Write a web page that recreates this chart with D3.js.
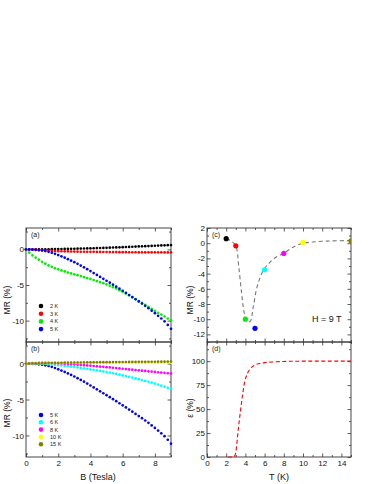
<!DOCTYPE html>
<html>
<head>
<meta charset="utf-8">
<script src="https://cdn.jsdelivr.net/npm/d3@7"></script>
<style>
  body { margin: 0; background: #fff; }
  svg { font-family: "Liberation Sans", Arial, sans-serif; }
</style>
</head>
<body>
<script>
// field values, Tesla
const fields = [0, 0.2, 0.4, 0.6, 0.8, 1.0, 1.2, 1.4, 1.6, 1.8, 2.0, 2.2, 2.4, 2.6, 2.8, 3.0, 3.2, 3.4, 3.6, 3.8,
  4.0, 4.2, 4.4, 4.6, 4.8, 5.0, 5.2, 5.4, 5.6, 5.8, 6.0, 6.2, 6.4, 6.6, 6.8, 7.0, 7.2, 7.4, 7.6, 7.8,
  8.0, 8.2, 8.4, 8.6, 8.8, 9.0]

const mr2K = [0, 0, 0, 0.01, 0.01, 0.01, 0.02, 0.02, 0.03, 0.04, 0.05, 0.05, 0.06, 0.07, 0.08, 0.09, 0.1, 0.11, 0.12, 0.14,
  0.15, 0.16, 0.18, 0.19, 0.21, 0.22, 0.24, 0.26, 0.27, 0.29, 0.31, 0.33, 0.35, 0.37, 0.39, 0.41, 0.43, 0.45, 0.47, 0.49,
  0.51, 0.53, 0.55, 0.57, 0.59, 0.61]
const mr3K = [0, -0.02, -0.05, -0.08, -0.11, -0.14, -0.16, -0.19, -0.21, -0.23, -0.25, -0.26, -0.28, -0.29, -0.3, -0.31, -0.32, -0.33, -0.33, -0.34,
  -0.35, -0.35, -0.36, -0.36, -0.37, -0.37, -0.38, -0.38, -0.38, -0.39, -0.39, -0.39, -0.4, -0.4, -0.4, -0.41, -0.41, -0.41, -0.41, -0.42,
  -0.42, -0.42, -0.42, -0.43, -0.43, -0.43]
const mr4K = [0, -0.45, -0.85, -1.15, -1.45, -1.75, -2.0, -2.25, -2.45, -2.65, -2.8, -2.95, -3.1, -3.25, -3.38, -3.5, -3.62, -3.75, -3.9, -4.02,
  -4.15, -4.3, -4.45, -4.6, -4.75, -4.92, -5.1, -5.3, -5.5, -5.72, -5.95, -6.2, -6.45, -6.72, -6.98, -7.25, -7.52, -7.8, -8.08, -8.35,
  -8.62, -8.9, -9.15, -9.42, -9.7, -9.95]
const mr5K = [0, -0.01, -0.03, -0.06, -0.1, -0.16, -0.24, -0.34, -0.46, -0.62, -0.8, -0.98, -1.17, -1.37, -1.58, -1.8, -2.03, -2.27, -2.52, -2.78,
  -3.05, -3.32, -3.59, -3.86, -4.13, -4.4, -4.67, -4.95, -5.23, -5.52, -5.81, -6.1, -6.4, -6.7, -7.0, -7.3, -7.6, -7.92, -8.25, -8.6,
  -8.95, -9.32, -9.7, -10.1, -10.6, -11.15]
const mr6K = [0, 0, 0, -0.01, -0.02, -0.04, -0.06, -0.09, -0.13, -0.17, -0.22, -0.27, -0.32, -0.37, -0.42, -0.48, -0.54, -0.6, -0.66, -0.73,
  -0.8, -0.87, -0.94, -1.02, -1.1, -1.18, -1.26, -1.35, -1.44, -1.53, -1.63, -1.73, -1.84, -1.95, -2.06, -2.17, -2.29, -2.41, -2.53, -2.66,
  -2.79, -2.93, -3.07, -3.22, -3.37, -3.52]
const mr8K = [0, 0.02, 0.05, 0.08, 0.1, 0.11, 0.11, 0.1, 0.08, 0.06, 0.03, 0, -0.03, -0.06, -0.09, -0.12, -0.15, -0.19, -0.22, -0.26,
  -0.3, -0.34, -0.38, -0.42, -0.46, -0.5, -0.54, -0.58, -0.63, -0.67, -0.72, -0.76, -0.81, -0.85, -0.9, -0.94, -0.99, -1.03, -1.08, -1.12,
  -1.17, -1.21, -1.26, -1.3, -1.35, -1.39]
const mr10K = [0, 0.01, 0.02, 0.03, 0.04, 0.05, 0.05, 0.06, 0.06, 0.07, 0.07, 0.07, 0.08, 0.08, 0.08, 0.08, 0.08, 0.09, 0.09, 0.09,
  0.09, 0.09, 0.09, 0.09, 0.1, 0.1, 0.1, 0.1, 0.1, 0.1, 0.1, 0.1, 0.1, 0.1, 0.1, 0.1, 0.1, 0.1, 0.1, 0.1,
  0.1, 0.1, 0.1, 0.1, 0.1, 0.1]
const mr15K = [0, 0.01, 0.02, 0.03, 0.04, 0.05, 0.06, 0.07, 0.08, 0.09, 0.1, 0.11, 0.12, 0.13, 0.13, 0.14, 0.15, 0.15, 0.16, 0.17,
  0.17, 0.18, 0.18, 0.19, 0.19, 0.2, 0.2, 0.21, 0.21, 0.21, 0.22, 0.22, 0.23, 0.23, 0.23, 0.24, 0.24, 0.24, 0.25, 0.25,
  0.25, 0.26, 0.26, 0.26, 0.27, 0.27]

// panel (c): MR at 9 T vs temperature
const temps = [2, 3, 4, 5, 6, 8, 10, 15]
const mr9T = [0.6, -0.35, -10.0, -11.2, -3.5, -1.35, 0.1, 0.3]
const tempColors = ["#000000", "#ff0000", "#00ee00", "#0000ff", "#00ffff", "#ff00ff", "#ffff00", "#808000"]
const guideT = [2, 2.5, 3, 3.3, 3.6, 3.9, 4.2, 4.5, 4.8, 5.2, 5.6, 6, 6.5, 7, 8, 9, 10, 11, 12, 13, 15]
const guideMR = [0.6, 0.3, -0.35, -3.0, -6.5, -9.3, -10.3, -10.3, -8.5, -5.8, -4.3, -3.3, -2.6, -2.0, -1.3, -0.5, 0.0, 0.15, 0.25, 0.3, 0.35]

// panel (d): epsilon vs temperature
const epsT = [2.2, 2.8, 3.0, 3.25, 3.6, 3.9, 4.2, 4.5, 5.0, 5.5, 6.0, 7.0, 8.0, 10, 12, 15]
const epsVal = [0, 0, 5, 28, 57, 77, 87, 92, 96, 97.5, 98.5, 99.3, 99.7, 100, 100, 100]

const legendA = ["2 K", "3 K", "4 K", "5 K"]
const legendB = ["5 K", "6 K", "8 K", "10 K", "15 K"]
const colA = ["#000000", "#ff0000", "#00ee00", "#0000ff"]
const colB = ["#0000ff", "#00ffff", "#ff00ff", "#ffff00", "#808000"]

const width = 374, height = 484
const svg = d3.select("body").append("svg").attr("width", width).attr("height", height)

const leftX = [26, 171], rightX = [207, 351]
const topRow = [228, 342], botRow = [342, 457]

const fmt = d => String(d)

function frame(xr, yr, xs, ys, opt) {
  const g = svg.append("g")
  // minor ticks
  const minorAxes = [
    [d3.axisBottom(xs), yr[1], "x"], [d3.axisTop(xs), yr[0], "x"],
    [d3.axisLeft(ys), xr[0], "y"], [d3.axisRight(ys), xr[1], "y"]
  ]
  minorAxes.forEach(([ax, pos, dir]) => {
    const vals = dir == "x" ? opt.xMinor : opt.yMinor
    const a = g.append("g")
      .attr("transform", dir == "x" ? `translate(0,${pos})` : `translate(${pos},0)`)
      .call(ax.tickValues(vals).tickSize(-2).tickFormat(""))
    a.select(".domain").remove()
  })
  // major ticks
  const xb = g.append("g").attr("transform", `translate(0,${yr[1]})`)
    .call(d3.axisBottom(xs).tickValues(opt.xMajor).tickSize(-3.5).tickPadding(3)
      .tickFormat(opt.xLabels ? fmt : ""))
  const xt = g.append("g").attr("transform", `translate(0,${yr[0]})`)
    .call(d3.axisTop(xs).tickValues(opt.xMajor).tickSize(-3.5).tickFormat(""))
  const yl = g.append("g").attr("transform", `translate(${xr[0]},0)`)
    .call(d3.axisLeft(ys).tickValues(opt.yMajor).tickSize(-3.5).tickPadding(2).tickFormat(fmt))
  const yrr = g.append("g").attr("transform", `translate(${xr[1]},0)`)
    .call(d3.axisRight(ys).tickValues(opt.yMajor).tickSize(-3.5).tickFormat(""))
  ;[xb, xt, yl, yrr].forEach(a => a.select(".domain").remove())
  g.selectAll(".tick line").attr("stroke", "#333").attr("stroke-width", 0.8)
  g.selectAll(".tick text").attr("font-size", 8).attr("fill", "#111")
    .attr("font-family", "Liberation Sans, Arial, sans-serif")
  g.append("rect").attr("x", xr[0]).attr("y", yr[0])
    .attr("width", xr[1] - xr[0]).attr("height", yr[1] - yr[0])
    .attr("fill", "none").attr("stroke", "#333").attr("stroke-width", 0.9)
  svg.append("text").attr("x", xr[0] + 5).attr("y", yr[0] + 9)
    .attr("font-size", 7).attr("fill", "#222").text(opt.tag)
}

// shared scales for left panels
const xB = d3.scaleLinear().domain([0, 9]).range(leftX)
const yA = d3.scaleLinear().domain([-13, 3]).range([topRow[1], topRow[0]])
const yB = d3.scaleLinear().domain([-13, 3]).range([botRow[1], botRow[0]])

const bMajor = [0, 2, 4, 6, 8], bMinor = [1, 3, 5, 7, 9]
const mrMajor = [-10, -5, 0], mrMinor = [-12.5, -7.5, -2.5, 2.5]

frame(leftX, topRow, xB, yA, { xMajor: bMajor, xMinor: bMinor, yMajor: mrMajor, yMinor: mrMinor, xLabels: false, tag: "(a)" })
frame(leftX, botRow, xB, yB, { xMajor: bMajor, xMinor: bMinor, yMajor: mrMajor, yMinor: mrMinor, xLabels: true, tag: "(b)" })

function dots(ys, vals, color, r) {
  svg.append("g").selectAll("circle").data(fields).join("circle")
    .attr("cx", d => xB(d))
    .attr("cy", (d, i) => ys(vals[i]))
    .attr("r", r)
    .attr("fill", color)
}

;[mr2K, mr3K, mr4K, mr5K].forEach((s, i) => dots(yA, s, colA[i], 1.35))
;[mr5K, mr6K, mr8K, mr10K, mr15K].forEach((s, i) => dots(yB, s, colB[i], 1.35))

function legend(x0, y0, step, labels, colors) {
  const g = svg.append("g")
  labels.forEach((l, i) => {
    g.append("circle").attr("cx", x0).attr("cy", y0 + i * step).attr("r", 2.3).attr("fill", colors[i])
    g.append("text").attr("x", x0 + 9).attr("y", y0 + i * step + 2)
      .attr("font-size", 5.5).attr("fill", "#222").text(l)
  })
}
legend(41, 306, 7.7, legendA, colA)
legend(41, 415, 7.3, legendB, colB)

// right panels
const xT = d3.scaleLinear().domain([0, 15]).range(rightX)
const yC = d3.scaleLinear().domain([-13, 2]).range([topRow[1], topRow[0]])
const yD = d3.scaleLinear().domain([0, 120]).range([botRow[1], botRow[0]])

const tMajor = [0, 2, 4, 6, 8, 10, 12, 14], tMinor = [1, 3, 5, 7, 9, 11, 13, 15]
frame(rightX, topRow, xT, yC, { xMajor: tMajor, xMinor: tMinor,
  yMajor: [-12, -10, -8, -6, -4, -2, 0, 2], yMinor: [-13, -11, -9, -7, -5, -3, -1, 1],
  xLabels: false, tag: "(c)" })
frame(rightX, botRow, xT, yD, { xMajor: tMajor, xMinor: tMinor,
  yMajor: [0, 25, 50, 75, 100], yMinor: [12.5, 37.5, 62.5, 87.5, 112.5],
  xLabels: true, tag: "(d)" })

const clipC = svg.append("clipPath").attr("id", "clipC").append("rect")
  .attr("x", rightX[0]).attr("y", topRow[0]).attr("width", rightX[1] - rightX[0]).attr("height", topRow[1] - topRow[0])

svg.append("path")
  .datum(guideT.map((t, i) => [t, guideMR[i]]))
  .attr("d", d3.line().x(d => xT(d[0])).y(d => yC(d[1])).curve(d3.curveCatmullRom))
  .attr("fill", "none").attr("stroke", "#777").attr("stroke-width", 1.1)
  .attr("stroke-dasharray", "4,3")

svg.append("g").attr("clip-path", "url(#clipC)")
  .selectAll("circle").data(temps).join("circle")
  .attr("cx", d => xT(d))
  .attr("cy", (d, i) => yC(mr9T[i]))
  .attr("r", 2.6)
  .attr("fill", (d, i) => tempColors[i])

svg.append("text").attr("x", 312).attr("y", 322).attr("font-size", 9).attr("fill", "#111").text("H = 9 T")

svg.append("path")
  .datum(epsT.map((t, i) => [t, epsVal[i]]))
  .attr("d", d3.line().x(d => xT(d[0])).y(d => yD(d[1])).curve(d3.curveMonotoneX))
  .attr("fill", "none").attr("stroke", "#ff0000").attr("stroke-width", 1.1)
  .attr("stroke-dasharray", "4,2.5")

// axis titles
function ytitle(x, y, t) {
  svg.append("text").attr("transform", `translate(${x},${y}) rotate(-90)`)
    .attr("text-anchor", "middle").attr("font-size", 8.5).attr("fill", "#111").text(t)
}
ytitle(10, 300, "MR (%)")
ytitle(10, 413, "MR (%)")
ytitle(193, 300, "MR (%)")
ytitle(193, 408, "ε (%)")

svg.append("text").attr("x", 98).attr("y", 480).attr("text-anchor", "middle")
  .attr("font-size", 9).attr("fill", "#111").text("B (Tesla)")
svg.append("text").attr("x", 279).attr("y", 480).attr("text-anchor", "middle")
  .attr("font-size", 9).attr("fill", "#111").text("T (K)")
</script>
</body>
</html>
